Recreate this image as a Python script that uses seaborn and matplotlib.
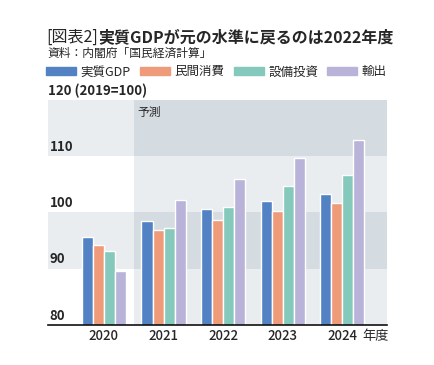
import pandas as pd
import matplotlib
matplotlib.use("Agg")
import matplotlib.pyplot as plt
import seaborn as sns

# Data (2019 = 100)
years = ["2020", "2021", "2022", "2023", "2024"]
series = ["実質GDP", "民間消費", "設備投資", "輸出"]
gdp = [95.6, 98.5, 100.6, 102.1, 103.3]
consumption = [94.2, 96.9, 98.7, 100.2, 101.7]
investment = [93.1, 97.2, 100.9, 104.7, 106.7]
exports = [89.5, 102.3, 106.0, 109.7, 112.8]
yticks = [80, 90, 100, 110]

colors = ["#5282c4", "#ef9a78", "#84c9bc", "#bab3d9"]

df = pd.DataFrame({
    "year": years * 4,
    "series": [s for s in series for _ in years],
    "value": gdp + consumption + investment + exports,
})

sns.set_style("white")
plt.rcParams["font.family"] = ["Noto Sans CJK JP", "DejaVu Sans"]

fig = plt.figure(figsize=(4.35, 3.65), dpi=100)
ax = fig.add_axes([0.110, 0.110, 0.780, 0.616])

# background bands: actual period (white / light), forecast (light / dark)
light = "#e9edf0"
dark = "#d4dce2"
for lo, hi in [(90, 100), (110, 120)]:
    ax.axhspan(lo, hi, color=light, lw=0, zorder=0)
for i, c in enumerate([light, dark, light, dark]):
    ax.axvspan(0.5, 10, ymin=i * 0.25, ymax=(i + 1) * 0.25, color=c,
               lw=0, zorder=0.5)

sns.barplot(data=df, x="year", y="value", hue="series", palette=colors,
            width=0.74, saturation=1, ax=ax, zorder=2, legend=False)

ax.set_xlim(-0.94, 4.75)
ax.set_ylim(80, 120)
ax.set_xlabel("")
ax.set_ylabel("")
ax.set_yticks([])
for t in yticks:
    ax.text(-0.91, t + 0.4, str(t), fontsize=9.5, fontweight="bold",
            va="bottom", ha="left", zorder=3)
ax.tick_params(axis="x", length=0, labelsize=9.5, pad=3)
for lab in ax.get_xticklabels():
    lab.set_fontweight("medium")
for s in ["top", "right", "left"]:
    ax.spines[s].set_visible(False)
ax.spines["bottom"].set_color("#111111")
ax.spines["bottom"].set_linewidth(1.2)

ax.text(0.56, 119, "予測", fontsize=8.5, va="top", ha="left", zorder=3)
ax.text(4.55, 78.0, "年度", fontsize=9.5, va="center", ha="center")
ax.text(-0.94, 120.4, "120 (2019=100)", fontsize=9.5, fontweight="bold",
        va="bottom", ha="left")

# legend
handles = [plt.Rectangle((0, 0), 1, 1, color=c) for c in colors]
fig.legend(handles, series, loc="center left", bbox_to_anchor=(0.106, 0.803),
           ncol=4, frameon=False, fontsize=9, handlelength=2.4,
           handleheight=0.5, handletextpad=0.35, columnspacing=0.75,
           borderaxespad=0, borderpad=0)

# title (regular prefix + bold remainder)
t1 = fig.text(0.106, 0.898, "[図表2]", fontsize=11.5, va="center", ha="left")
fig.canvas.draw()
bb = t1.get_window_extent()
x2 = bb.x1 / fig.bbox.width
fig.text(x2, 0.898, "実質GDPが元の水準に戻るのは2022年度", fontsize=11.5,
         fontweight="bold", va="center", ha="left")
fig.text(0.110, 0.855, "資料：内閣府「国民経済計算」", fontsize=8.5,
         va="center", ha="left")

fig.savefig("out.png", dpi=100)
